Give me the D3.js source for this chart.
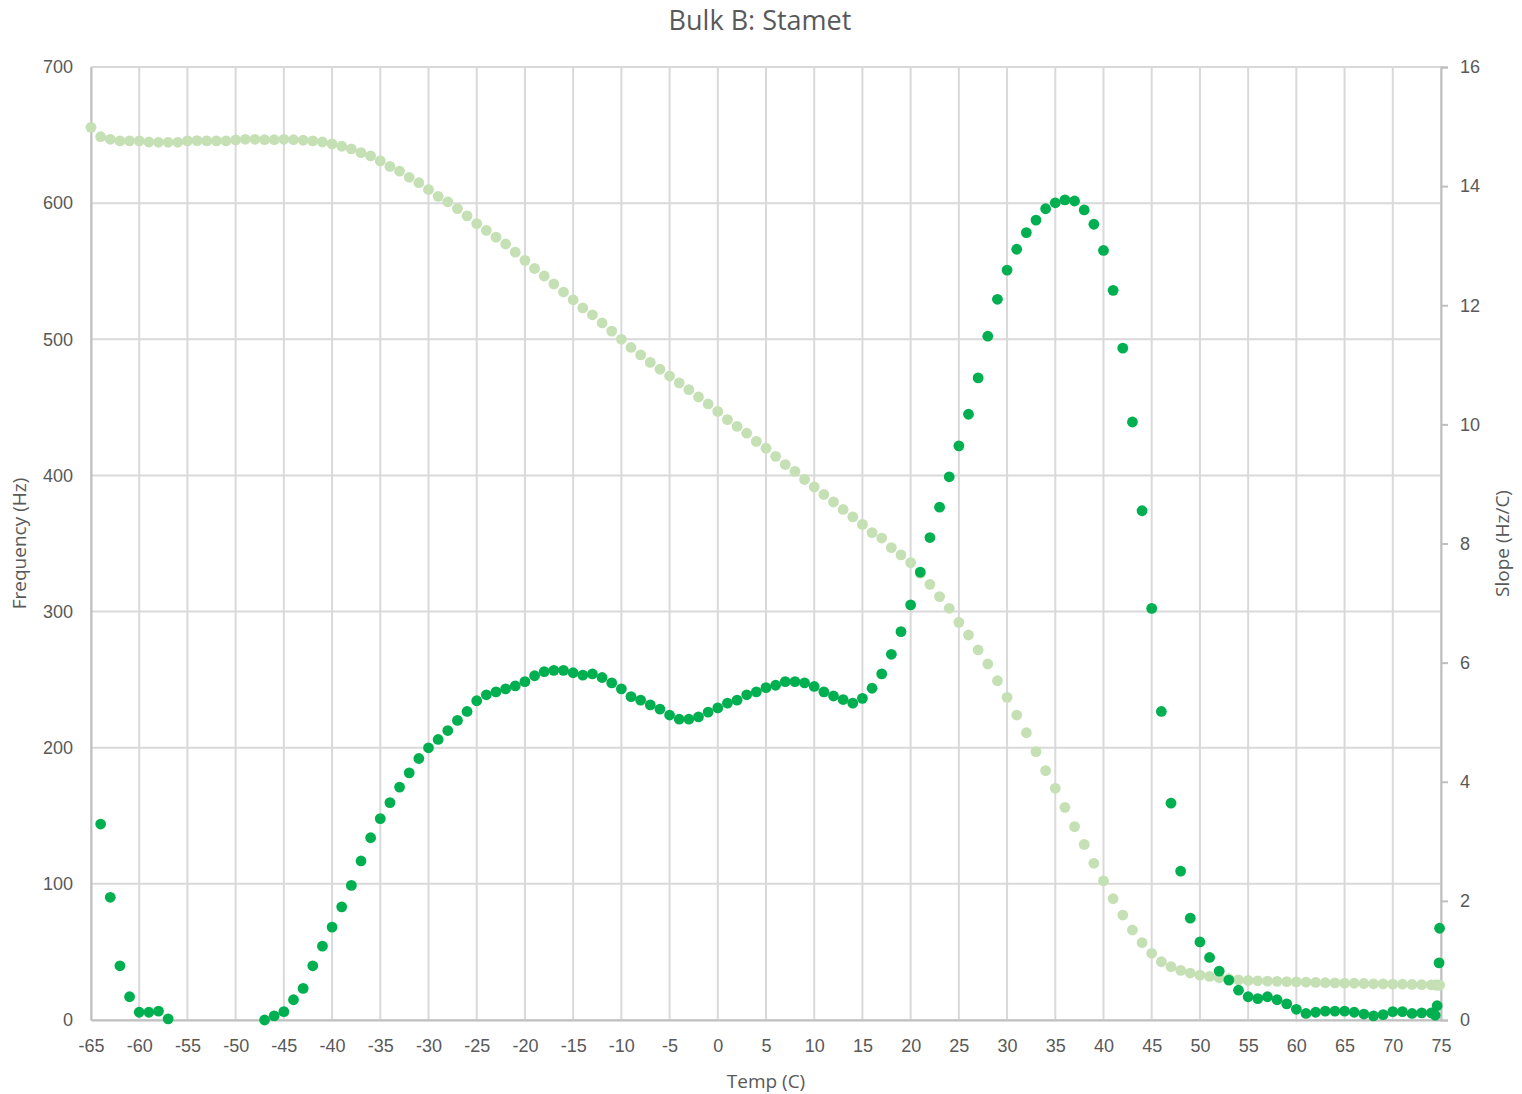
<!DOCTYPE html>
<html>
<head>
<meta charset="utf-8">
<script src="https://cdn.jsdelivr.net/npm/d3@7"></script>
<style>
  html, body { margin: 0; padding: 0; background: #fff; }
  svg { display: block; font-family: "Open Sans", "Noto Sans", sans-serif; }
</style>
</head>
<body>
<svg id="chart" width="1522" height="1094"></svg>
<script>
// ---------- data ----------
const temps = [
  -65,-64,-63,-62,-61,-60,-59,-58,-57,-56,-55,-54,-53,-52,-51,-50,-49,-48,-47,-46,
  -45,-44,-43,-42,-41,-40,-39,-38,-37,-36,-35,-34,-33,-32,-31,-30,-29,-28,-27,-26,
  -25,-24,-23,-22,-21,-20,-19,-18,-17,-16,-15,-14,-13,-12,-11,-10,-9,-8,-7,-6,
  -5,-4,-3,-2,-1,0,1,2,3,4,5,6,7,8,9,10,11,12,13,14,
  15,16,17,18,19,20,21,22,23,24,25,26,27,28,29,30,31,32,33,34,
  35,36,37,38,39,40,41,42,43,44,45,46,47,48,49,50,51,52,53,54,
  55,56,57,58,59,60,61,62,63,64,65,66,67,68,69,70,71,72,73,74,
  74.4,74.6,74.8,74.85
];
const frequency = [
  655.7,648.8,646.9,645.7,645.7,645.7,644.9,644.7,644.7,644.7,645.7,645.9,645.7,645.7,645.7,646.4,646.9,646.9,646.6,646.6,
  646.9,646.6,646.2,645.7,644.9,643.5,641.8,639.8,637.1,634.7,631.0,627,623.5,619,615,610,605,601,596,590.6,
  585,580,575,570,564,558,552,546.5,540.6,534.7,529,523,518,512,506,500,494,488.5,483,478,
  473,468,463,457.6,452.5,447,441,436,431,425,420,414,408,403,397,391.5,386,380.5,375,369.5,
  364,358,354,347,341.6,336,328,320,311,302.4,292.1,282.8,271.8,261.5,249.2,237.0,224.0,211.0,197.1,183.2,
  170.2,156.2,142.0,129.0,115.1,102.1,89.1,77.1,66.1,56.8,49.0,42.8,39.2,36.5,34.5,33,32,31,30.3,29.5,
  29,28.8,28.6,28.4,28.2,28,27.8,27.6,27.4,27.3,27.1,27,26.8,26.6,26.5,26.4,26.3,26.1,26,25.8,
  25.7,25.7,25.6,25.6
];
const slope = [
  null,3.29,2.06,0.91,0.39,0.13,0.13,0.15,0.02,null,null,null,null,null,null,null,null,null,0.0,0.07,
  0.14,0.34,0.53,0.91,1.24,1.56,1.90,2.26,2.67,3.06,3.38,3.65,3.91,4.15,4.39,4.57,4.71,4.86,5.03,5.18,
  5.36,5.46,5.51,5.56,5.61,5.68,5.78,5.85,5.87,5.87,5.83,5.79,5.81,5.75,5.66,5.56,5.43,5.37,5.29,5.22,
  5.12,5.05,5.05,5.09,5.17,5.24,5.32,5.37,5.46,5.51,5.58,5.62,5.68,5.68,5.66,5.60,5.51,5.44,5.38,5.32,
  5.40,5.57,5.81,6.14,6.52,6.97,7.52,8.10,8.61,9.12,9.64,10.17,10.78,11.48,12.10,12.59,12.94,13.22,13.43,13.62,
  13.72,13.77,13.75,13.60,13.36,12.92,12.25,11.28,10.04,8.55,6.91,5.18,3.64,2.50,1.71,1.31,1.05,0.82,0.67,0.50,
  0.39,0.36,0.39,0.34,0.27,0.18,0.11,0.13,0.15,0.15,0.15,0.13,0.10,0.07,0.09,0.14,0.14,0.11,0.12,0.12,
  0.08,0.24,0.96,1.54
];
const xTicks = [-65,-60,-55,-50,-45,-40,-35,-30,-25,-20,-15,-10,-5,0,5,10,15,20,25,30,35,40,45,50,55,60,65,70,75];
const yLeftTicks = [0,100,200,300,400,500,600,700];
const yRightTicks = [0,2,4,6,8,10,12,14,16];

const title = "Bulk B: Stamet";
const xTitle = "Temp (C)";
const yLeftTitle = "Frequency (Hz)";
const yRightTitle = "Slope (Hz/C)";

// ---------- layout ----------
const plot = { left: 91, right: 1441, top: 67, bottom: 1020 };
const textColor = "#595959";
const gridColor = "#d9d9d9";
const axisColor = "#bfbfbf";

const svg = d3.select("#chart");

const x = d3.scaleLinear().domain([-65, 75]).range([plot.left, plot.right]);
const yL = d3.scaleLinear().domain([0, 700]).range([plot.bottom, plot.top]);
const yR = d3.scaleLinear().domain([0, 16]).range([plot.bottom, plot.top]);

// gridlines
const grid = svg.append("g");
grid.selectAll("line.v").data(xTicks).join("line")
  .attr("x1", d => x(d)).attr("x2", d => x(d))
  .attr("y1", plot.top).attr("y2", plot.bottom)
  .attr("stroke", gridColor).attr("stroke-width", 2);
grid.selectAll("line.h").data(yLeftTicks).join("line")
  .attr("x1", plot.left).attr("x2", plot.right)
  .attr("y1", d => yL(d)).attr("y2", d => yL(d))
  .attr("stroke", gridColor).attr("stroke-width", 2);

// axes
const xAxis = d3.axisBottom(x).tickValues(xTicks).tickSize(0).tickPadding(19).tickFormat(d => String(d));
const gx = svg.append("g").attr("transform", `translate(0,${plot.bottom})`).call(xAxis);
gx.select(".domain").attr("stroke", axisColor).attr("stroke-width", 2);
gx.selectAll("text").attr("fill", textColor).style("font-size", "18px");

const yAxisL = d3.axisLeft(yL).tickValues(yLeftTicks).tickSize(0).tickPadding(18).tickFormat(d => String(d));
const gyl = svg.append("g").attr("transform", `translate(${plot.left},0)`).call(yAxisL);
gyl.select(".domain").attr("stroke", axisColor).attr("stroke-width", 2);
gyl.selectAll("text").attr("fill", textColor).style("font-size", "18px");

const yAxisR = d3.axisRight(yR).tickValues(yRightTicks).tickSize(7).tickPadding(12).tickFormat(d => String(d));
const gyr = svg.append("g").attr("transform", `translate(${plot.right},0)`).call(yAxisR);
gyr.select(".domain").attr("stroke", axisColor).attr("stroke-width", 2);
gyr.selectAll(".tick line").attr("stroke", axisColor).attr("stroke-width", 2);
gyr.selectAll("text").attr("fill", textColor).style("font-size", "18px");

// series
const points = temps.map((t, i) => ({ t, f: frequency[i], s: slope[i] }));

svg.append("g").selectAll("circle").data(points.filter(d => d.f != null)).join("circle")
  .attr("cx", d => x(d.t)).attr("cy", d => yL(d.f)).attr("r", 5.4)
  .attr("fill", "#c5e0b4");

svg.append("g").selectAll("circle").data(points.filter(d => d.s != null)).join("circle")
  .attr("cx", d => x(d.t)).attr("cy", d => yR(d.s)).attr("r", 5.4)
  .attr("fill", "#00b050");

// titles
svg.append("text").attr("x", 760).attr("y", 30).attr("text-anchor", "middle")
  .attr("fill", textColor).style("font-size", "27px").text(title);
svg.append("text").attr("x", (plot.left + plot.right) / 2).attr("y", 1088).attr("text-anchor", "middle")
  .attr("fill", textColor).style("font-size", "19px").text(xTitle);
svg.append("text").attr("transform", `translate(26,${(plot.top + plot.bottom) / 2}) rotate(-90)`)
  .attr("text-anchor", "middle").attr("fill", textColor).style("font-size", "19px").text(yLeftTitle);
svg.append("text").attr("transform", `translate(1509,${(plot.top + plot.bottom) / 2}) rotate(-90)`)
  .attr("text-anchor", "middle").attr("fill", textColor).style("font-size", "19px").text(yRightTitle);
</script>
</body>
</html>
